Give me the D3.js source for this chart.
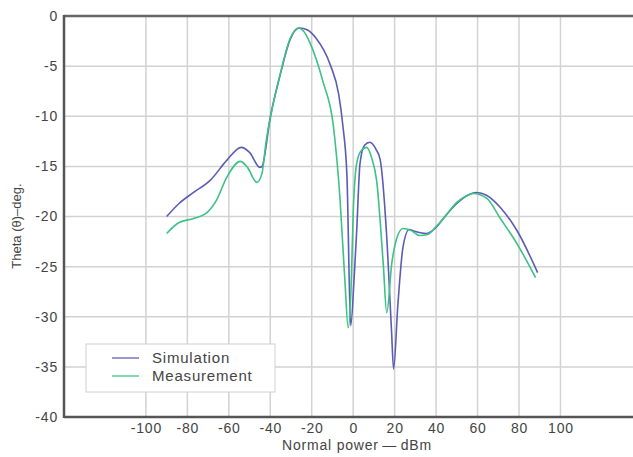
<!DOCTYPE html>
<html>
<head>
<meta charset="utf-8">
<script src="https://cdn.jsdelivr.net/npm/d3@7"></script>
<style>
  body { margin: 0; background: #fff; }
  text { font-family: "Liberation Sans", Arial, sans-serif; fill: #444; }
</style>
</head>
<body>
<div id="chart"></div>
<script>
// data
const simAngle = [-90, -84, -77, -69, -61, -54, -50, -45, -44, -40, -35, -30.5, -26, -22, -18, -11, -7, -5, -3, -1.2, 0.5, 1.7, 3.3, 5.5, 8, 11, 13, 16, 18.5, 19.5, 21.5, 24, 27, 30, 35, 40, 43.5, 50, 55, 59.5, 64.5, 71, 79, 89];
const simValue = [-20.0, -18.7, -17.6, -16.4, -14.4, -13.1, -13.6, -15.1, -15.0, -10.1, -5.7, -2.4, -1.2, -1.4, -2.2, -4.9, -7.8, -10.9, -16, -30.9, -26, -21.4, -14.7, -12.9, -12.6, -13.3, -14.3, -21.4, -31.4, -35.2, -29, -23.1, -21.3, -21.5, -21.7, -21.1, -20.2, -18.7, -17.9, -17.6, -17.9, -19.1, -21.4, -25.6];

const measAngle = [-90, -84, -77, -71, -66, -61, -54.5, -51, -46.5, -44, -42, -40, -35, -30.5, -26.5, -24, -21, -14.5, -9.6, -6.4, -4, -2.4, -1, 0, 1.7, 4, 6.5, 9, 11.3, 14.5, 16.2, 18.6, 21, 24, 28, 32, 36, 40, 43.5, 50, 55, 58, 64.5, 71, 79, 88];
const measValue = [-21.7, -20.6, -20.2, -19.7, -18.4, -16.1, -14.5, -15.1, -16.6, -15.7, -12.5, -10.2, -5.6, -2.3, -1.2, -1.5, -2.6, -6.6, -10.9, -18.1, -26.4, -31.1, -27, -19.7, -14.7, -13.4, -13.1, -14.2, -16.4, -24.7, -29.6, -24.7, -22.2, -21.2, -21.4, -21.9, -21.8, -21.0, -20.2, -18.6, -17.9, -17.7, -18.2, -20.2, -22.7, -26.1];

const xTicks = [-100, -80, -60, -40, -20, 0, 20, 40, 60, 80, 100];
const yTicks = [0, -5, -10, -15, -20, -25, -30, -35, -40];
const seriesNames = ["Simulation", "Measurement"];
const seriesColors = ["#5c5cb4", "#3cc284"];

const W = 633, H = 457;
const margin = {top: 16, right: 0, bottom: 40, left: 64};

const svg = d3.select("#chart").append("svg")
  .attr("width", W).attr("height", H);

const x = d3.scaleLinear().domain([-140, 135]).range([margin.left - 1, W]);
const y = d3.scaleLinear().domain([-40, 0]).range([H - margin.bottom, margin.top]);

// grid
svg.append("g").selectAll("line.vg")
  .data(xTicks).join("line")
  .attr("x1", d => x(d)).attr("x2", d => x(d))
  .attr("y1", y(0)).attr("y2", y(-40))
  .attr("stroke", "#d2d2d2").attr("stroke-width", 1.5);

svg.append("g").selectAll("line.hg")
  .data(yTicks.filter(d => d !== 0 && d !== -40)).join("line")
  .attr("x1", margin.left).attr("x2", W)
  .attr("y1", d => y(d)).attr("y2", d => y(d))
  .attr("stroke", "#d2d2d2").attr("stroke-width", 1.5);

// frame
svg.append("line")
  .attr("x1", margin.left).attr("x2", W)
  .attr("y1", y(0)).attr("y2", y(0))
  .attr("stroke", "#666").attr("stroke-width", 2.5);
svg.append("line")
  .attr("x1", margin.left).attr("x2", W)
  .attr("y1", y(-40)).attr("y2", y(-40))
  .attr("stroke", "#555").attr("stroke-width", 2.5);
svg.append("line")
  .attr("x1", margin.left).attr("x2", margin.left)
  .attr("y1", y(0) - 1).attr("y2", y(-40) + 1)
  .attr("stroke", "#555").attr("stroke-width", 2.5);

// axes (labels only), plain hyphen for negatives like the original
const fmt = d => String(d);
const xAxis = d3.axisBottom(x).tickValues(xTicks).tickFormat(fmt).tickSize(0).tickPadding(6);
const gx = svg.append("g").attr("transform", `translate(0,${y(-40)})`).call(xAxis);
gx.select(".domain").remove();

const yAxis = d3.axisLeft(y).tickValues(yTicks).tickFormat(fmt).tickSize(0).tickPadding(6);
const gy = svg.append("g").attr("transform", `translate(${margin.left},0)`).call(yAxis);
gy.select(".domain").remove();

svg.selectAll(".tick text")
  .style("font-family", "'Liberation Sans', Arial, sans-serif")
  .style("font-size", "14px")
  .style("letter-spacing", "0.8px")
  .attr("fill", "#444");

// curves
const line = d3.line()
  .x(d => x(d[0]))
  .y(d => y(d[1]))
  .curve(d3.curveMonotoneX);

const series = [
  d3.zip(simAngle, simValue),
  d3.zip(measAngle, measValue)
];

svg.append("g").selectAll("path")
  .data(series).join("path")
  .attr("d", line)
  .attr("fill", "none")
  .attr("stroke", (d, i) => seriesColors[i])
  .attr("stroke-width", 1.6);

// axis titles
svg.append("text")
  .attr("x", 357).attr("y", 450)
  .attr("text-anchor", "middle")
  .style("font-size", "14px")
  .style("letter-spacing", "0.8px")
  .text("Normal power\u2009\u2014\u2009dBm");

svg.append("text")
  .attr("transform", "translate(21,226) rotate(-90)")
  .attr("text-anchor", "middle")
  .style("font-size", "13px")
  .text("Theta (\u03b8)\u2013deg.");

// legend
const lg = svg.append("g").attr("transform", "translate(86,344)");
lg.append("rect")
  .attr("width", 189).attr("height", 48)
  .attr("fill", "#fff").attr("stroke", "#d0d0d0").attr("stroke-width", 1);

seriesNames.forEach((name, i) => {
  const yy = 14 + i * 18;
  lg.append("line")
    .attr("x1", 26).attr("x2", 53)
    .attr("y1", yy).attr("y2", yy)
    .attr("stroke", seriesColors[i]).attr("stroke-width", 1.6)
    .attr("stroke-opacity", 0.8);
  lg.append("text")
    .attr("x", 66).attr("y", yy + 5)
    .style("font-size", "15px")
    .style("letter-spacing", "0.8px")
    .text(name);
});
</script>
</body>
</html>
